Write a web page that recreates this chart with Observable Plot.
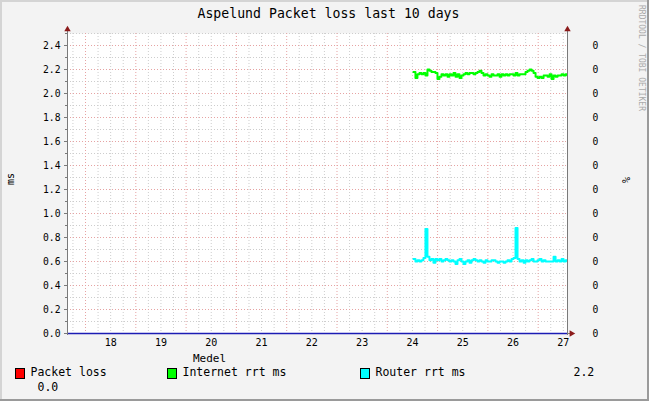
<!DOCTYPE html>
<html><head><meta charset="utf-8">
<script src="https://cdn.jsdelivr.net/npm/d3@7"></script>
<script src="https://cdn.jsdelivr.net/npm/@observablehq/plot@0.6"></script>
<style>
html,body{margin:0;padding:0;background:#f3f3f3;}
#wrap{position:relative;width:649px;height:401px;background:#f3f3f3;overflow:hidden;font-family:"DejaVu Sans Mono",monospace;color:#000;}
.t{position:absolute;white-space:pre;line-height:1;}
.box{position:absolute;width:8px;height:9px;border:1px solid #000;}
.edge{position:absolute;}
</style></head><body><div id="wrap"></div>
<script>
// ---- data ----
const titleText = "Aspelund Packet loss last 10 days";
const dayLabels = [18, 19, 20, 21, 22, 23, 24, 25, 26, 27];
const yTickLabels = [0, 0.2, 0.4, 0.6, 0.8, 1.0, 1.2, 1.4, 1.6, 1.8, 2.0, 2.2, 2.4];
const startDay = 24.52;      // first sample (day of month)
const sampleDays = 0.0398;   // sample interval in days
const internetRtt = [2.18,2.13,2.16,2.17,2.16,2.17,2.15,2.20,2.19,2.18,
  2.18,2.17,2.12,2.14,2.16,2.15,2.16,2.14,2.16,2.15,
  2.17,2.14,2.16,2.13,2.15,2.16,2.17,2.16,2.17,2.17,
  2.16,2.17,2.18,2.19,2.17,2.15,2.16,2.15,2.14,2.16,
  2.15,2.15,2.16,2.14,2.16,2.15,2.16,2.15,2.16,2.16,
  2.15,2.17,2.15,2.16,2.16,2.16,2.18,2.19,2.20,2.19,
  2.17,2.14,2.13,2.14,2.13,2.15,2.15,2.14,2.16,2.12,
  2.15,2.14,2.15,2.15,2.16,2.15,2.16,2.15];
const routerRtt = [0.62,0.60,0.61,0.60,0.61,0.63,0.87,0.64,0.61,0.62,
  0.59,0.62,0.61,0.62,0.60,0.61,0.62,0.61,0.60,0.61,
  0.60,0.58,0.61,0.62,0.60,0.58,0.60,0.61,0.59,0.61,
  0.62,0.61,0.60,0.61,0.60,0.59,0.61,0.60,0.60,0.61,
  0.61,0.60,0.59,0.60,0.60,0.59,0.60,0.61,0.60,0.62,
  0.63,0.88,0.62,0.60,0.61,0.59,0.61,0.60,0.61,0.62,
  0.60,0.60,0.61,0.62,0.60,0.61,0.60,0.60,0.60,0.60,
  0.64,0.60,0.61,0.60,0.62,0.60,0.61,0.60];
const packetLoss = [0];
const seriesNames = ["Packet loss", "Internet rrt ms", "Router rrt ms"];
const seriesColors = ["#ff0000", "#00ff00", "#00ffff"];
const avgHeader = "Medel";
const legendValues = ["2.2", "0.0"];
const yLabel = "ms";
const y2Label = "%";
const watermark = "RRDTOOL / TOBI OETIKER";

// ---- build ----
const xDomain = [17.642, 27.583];
const yDomain = [0, 2.5];
const internet = internetRtt.map((v, i) => ({t: startDay + i * sampleDays, v}));
const router = routerRtt.map((v, i) => ({t: startDay + i * sampleDays, v}));
const majorX = d3.range(18, 27.6, 1);
const minorX = d3.range(17.75, 27.6, 0.25).filter(d => Math.abs(d - Math.round(d)) > 1e-6);
const majorY = yTickLabels;
const minorY = d3.range(0.1, 2.51, 0.2);

const gridMinor = "#cdcdcd", gridMajor = "#e6a3a3", axisCol = "#7a7a7a", arrowCol = "#8b1a1a";

const plot = Plot.plot({
  width: 649, height: 401,
  marginLeft: 67, marginRight: 82, marginTop: 33, marginBottom: 68,
  style: {background: "transparent", fontFamily: "DejaVu Sans Mono, monospace", fontSize: "10px", color: "#000"},
  x: {domain: xDomain, axis: null},
  y: {domain: yDomain, axis: null},
  marks: [
    Plot.frame({fill: "#ffffff", stroke: null}),
    Plot.gridX(minorX, {stroke: gridMinor, strokeOpacity: 1, strokeDasharray: "1,2"}),
    Plot.gridY(minorY, {stroke: gridMinor, strokeOpacity: 1, strokeDasharray: "1,2"}),
    Plot.gridX(majorX, {stroke: gridMajor, strokeOpacity: 1, strokeDasharray: "1,2"}),
    Plot.gridY(majorY.filter(d => d > 0), {stroke: gridMajor, strokeOpacity: 1, strokeDasharray: "1,2"}),
    Plot.line(internet, {x: "t", y: "v", stroke: seriesColors[1], strokeWidth: 2, curve: "step-after", clip: true}),
    Plot.line(router, {x: "t", y: "v", stroke: seriesColors[2], strokeWidth: 2, curve: "step-after", clip: true}),
    // axis lines
    Plot.ruleY([0], {stroke: axisCol, insetRight: -4}),
    Plot.ruleY(packetLoss, {stroke: "#1c1cb4", strokeWidth: 1.5}),
    Plot.ruleX([xDomain[0]], {stroke: axisCol, insetTop: -3, insetBottom: -2}),
    Plot.ruleX([xDomain[1]], {stroke: axisCol, insetTop: -3, insetBottom: -2}),
    // arrows
    Plot.dot([{x: xDomain[0], y: yDomain[1]}], {x: "x", y: "y", symbol: "triangle", r: 2.4, fill: arrowCol, stroke: null, dy: -4}),
    Plot.dot([{x: xDomain[1], y: yDomain[1]}], {x: "x", y: "y", symbol: "triangle", r: 2.4, fill: arrowCol, stroke: null, dy: -4}),
    Plot.dot([{x: xDomain[1], y: 0}], {x: "x", y: "y", symbol: "triangle", r: 2.4, fill: arrowCol, stroke: null, dx: 4, rotate: 90}),
    // axes
    Plot.axisY(minorY, {anchor: "left", tickSize: 2, tickFormat: () => "", stroke: axisCol}),
    Plot.axisY(majorY, {anchor: "left", tickSize: 3, tickPadding: 4, tickFormat: d => d.toFixed(1), stroke: axisCol, fontSize: 9.7}),
    Plot.axisY(majorY, {anchor: "right", tickSize: 0, tickPadding: 25, tickFormat: () => "0", fontSize: 9.7}),
    Plot.axisX(dayLabels.map(d => d + 0.5), {anchor: "bottom", tickSize: 0, tickPadding: 5, tickFormat: d => String(Math.floor(d)), fontSize: 10})
  ]
});
plot.style.position = "absolute";
plot.style.left = "0px";
plot.style.top = "0px";

const wrap = document.getElementById("wrap");
wrap.appendChild(plot);

function txt(s, x, cy, fs, extra) {
  const d = document.createElement("div");
  d.className = "t";
  d.textContent = s;
  d.style.left = x + "px";
  d.style.top = (cy - 0.52 * fs) + "px";
  d.style.fontSize = fs + "px";
  if (extra) Object.assign(d.style, extra);
  wrap.appendChild(d);
  return d;
}
function rot(s, cx, cy, fs, color) {
  const d = document.createElement("div");
  d.className = "t";
  d.textContent = s;
  d.style.left = cx + "px";
  d.style.top = cy + "px";
  d.style.fontSize = fs + "px";
  d.style.transform = "translate(-50%,-50%) rotate(-90deg)";
  if (color) d.style.color = color;
  wrap.appendChild(d);
}
// title
txt(titleText, 0, 13.4, 13.2, {width: "657px", textAlign: "center"});
// watermark
const wm = document.createElement("div");
wm.className = "t";
wm.textContent = watermark;
Object.assign(wm.style, {left: "637px", top: "5px", fontSize: "8px", color: "#aaaaaa", writingMode: "vertical-rl", lineHeight: "8px"});
wrap.appendChild(wm);
// axis titles
rot(yLabel, 11, 179, 10);
rot(y2Label, 627, 180, 10);
// legend
txt(avgHeader, 193, 358.5, 11);
const legendX = [15, 167, 360];
seriesNames.forEach((n, i) => {
  const b = document.createElement("div");
  b.className = "box";
  b.style.left = legendX[i] + "px";
  b.style.top = "368px";
  b.style.background = seriesColors[i];
  wrap.appendChild(b);
  txt(n, legendX[i] + 15.5, 373, 11.5);
});
txt(legendValues[0], 573.5, 373, 11.5);
txt(legendValues[1], 37.5, 387.5, 11.5);
// 3D frame edges
[["0px","0px","649px","2px","#d4d4d4"],["0px","0px","2px","401px","#d4d4d4"],
 ["0px","399px","649px","2px","#9a9a9a"],["647px","0px","2px","401px","#9a9a9a"]].forEach(([l,t,w,h,c]) => {
  const e = document.createElement("div");
  e.className = "edge";
  Object.assign(e.style, {left: l, top: t, width: w, height: h, background: c});
  wrap.appendChild(e);
});
</script>
</body></html>
